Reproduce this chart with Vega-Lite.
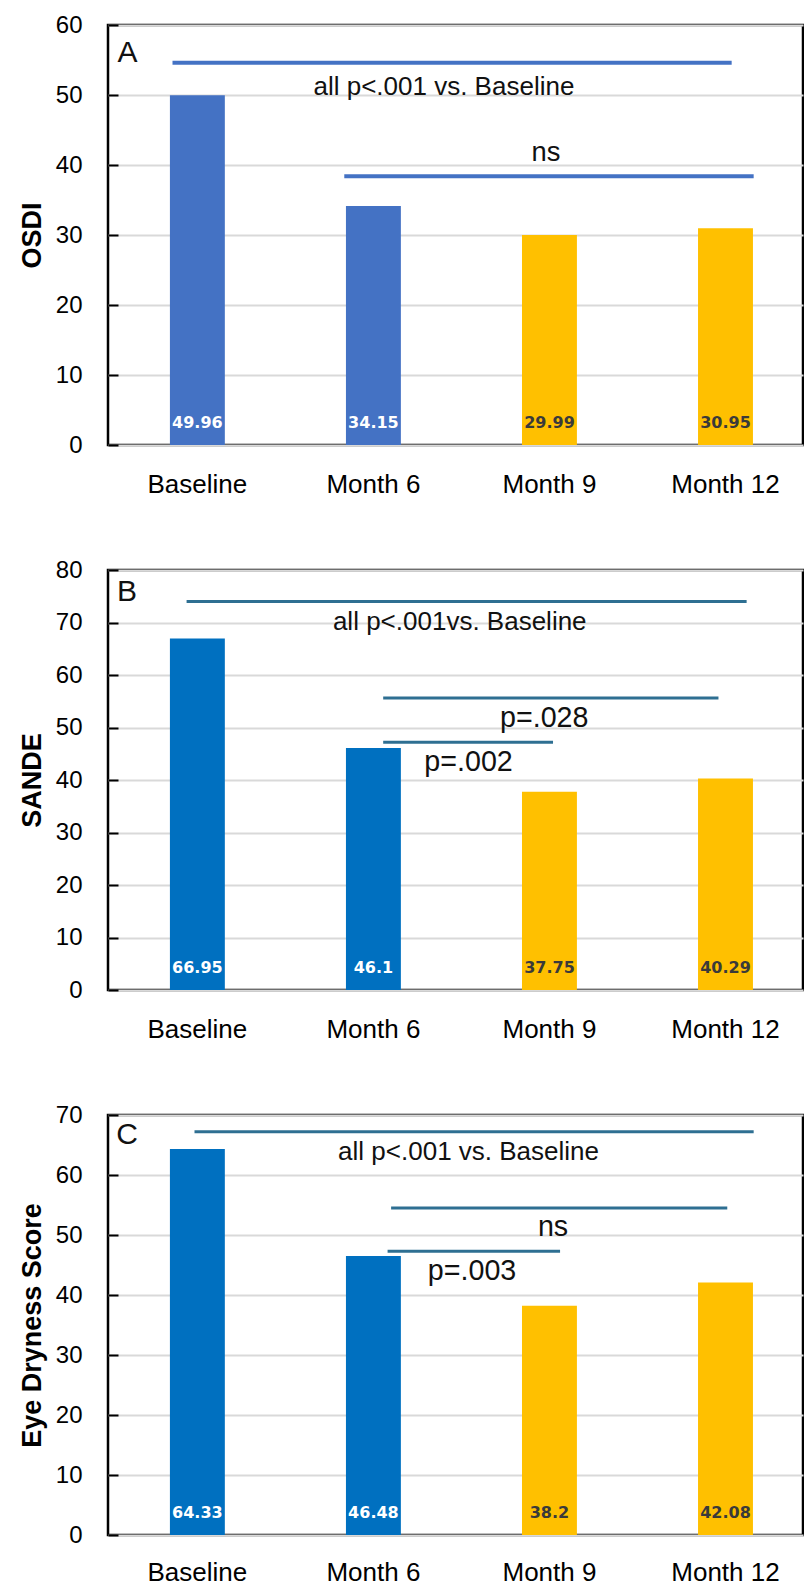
{
  "$schema": "https://vega.github.io/schema/vega-lite/v6.json",
  "padding": {"left": 17, "top": 11, "right": 0, "bottom": 0},
  "spacing": 57,
  "resolve": {"scale": {"color": "independent"}},
  "config": {
    "font": "Liberation Sans",
    "view": {"stroke": "#000", "strokeWidth": 2.5},
    "axis": {"labelFont": "Liberation Sans", "titleFont": "Liberation Sans", "labelColor": "#000", "titleColor": "#000"},
    "axisY": {"grid": true, "gridColor": "#D9D9D9", "gridWidth": 2, "domain": false, "tickSize": -10, "tickColor": "#000", "tickWidth": 2, "labelFontSize": 24, "labelPadding": 36, "titleFontSize": 27, "titleFontWeight": "bold", "titlePadding": 9},
    "axisX": {"ticks": false, "domain": false, "labelFontSize": 26, "labelPadding": 26, "labelAngle": 0, "grid": false}
  },
  "datasets": {
    "A_bars": [
      {"t": "Baseline", "v": 49.96, "period": "early"},
      {"t": "Month 6", "v": 34.15, "period": "early"},
      {"t": "Month 9", "v": 29.99, "period": "late"},
      {"t": "Month 12", "v": 30.95, "period": "late"}
    ],
    "B_bars": [
      {"t": "Baseline", "v": 66.95, "period": "early"},
      {"t": "Month 6", "v": 46.1, "period": "early"},
      {"t": "Month 9", "v": 37.75, "period": "late"},
      {"t": "Month 12", "v": 40.29, "period": "late"}
    ],
    "C_bars": [
      {"t": "Baseline", "v": 64.33, "period": "early"},
      {"t": "Month 6", "v": 46.48, "period": "early"},
      {"t": "Month 9", "v": 38.2, "period": "late"},
      {"t": "Month 12", "v": 42.08, "period": "late"}
    ],
    "A_rules": [
      {"x1": -0.142, "x2": 3.035, "y": 54.6},
      {"x1": 0.834, "x2": 3.16, "y": 38.4}
    ],
    "A_text": [
      {"x": 1.40, "y": 51.2, "label": "all p<.001 vs. Baseline", "kind": "main"},
      {"x": 1.98, "y": 41.7, "label": "ns", "kind": "big"},
      {"x": -0.397, "y": 56.0, "label": "A", "kind": "letter"}
    ],
    "B_rules": [
      {"x1": -0.062, "x2": 3.12, "y": 74.0},
      {"x1": 1.055, "x2": 2.96, "y": 55.6},
      {"x1": 1.055, "x2": 2.02, "y": 47.2}
    ],
    "B_text": [
      {"x": 1.49, "y": 70.1, "label": "all p<.001vs. Baseline", "kind": "main"},
      {"x": 1.97, "y": 51.9, "label": "p=.028", "kind": "p"},
      {"x": 1.54, "y": 43.4, "label": "p=.002", "kind": "p"},
      {"x": -0.40, "y": 75.9, "label": "B", "kind": "letter"}
    ],
    "C_rules": [
      {"x1": -0.017, "x2": 3.16, "y": 67.2},
      {"x1": 1.10, "x2": 3.01, "y": 54.5},
      {"x1": 1.08, "x2": 2.06, "y": 47.3}
    ],
    "C_text": [
      {"x": 1.54, "y": 63.8, "label": "all p<.001 vs. Baseline", "kind": "main"},
      {"x": 2.02, "y": 51.4, "label": "ns", "kind": "p"},
      {"x": 1.56, "y": 44.0, "label": "p=.003", "kind": "p"},
      {"x": -0.40, "y": 66.7, "label": "C", "kind": "letter"}
    ]
  },
  "vconcat": [
    {
      "width": 695, "height": 420,
      "layer": [
        {
          "data": {"name": "A_bars"},
          "encoding": {
            "x": {"field": "t", "type": "nominal", "sort": null, "title": null, "scale": {"paddingInner": 0.688, "paddingOuter": 0.318, "align": 0.553}},
            "y": {"field": "v", "type": "quantitative", "title": "OSDI", "scale": {"domain": [0, 60], "nice": false}, "axis": {"values": [0, 10, 20, 30, 40, 50, 60]}}
          },
          "layer": [
            {"mark": {"type": "bar"}, "encoding": {"color": {"field": "period", "type": "nominal", "scale": {"domain": ["early", "late"], "range": ["#4472C4", "#FFC000"]}, "legend": null}}},
            {"mark": {"type": "text", "font": "DejaVu Sans", "fontWeight": "bold", "fontSize": 16, "dy": -22, "baseline": "middle"},
             "encoding": {"y": {"datum": 0}, "text": {"field": "v", "type": "nominal"}, "color": {"condition": {"test": "datum.period === 'early'", "value": "#ffffff"}, "value": "#3a3a3a"}}}
          ]
        },
        {
          "layer": [
            {"data": {"name": "A_rules"}, "mark": {"type": "rule", "color": "#4472C4", "strokeWidth": 4},
             "encoding": {
               "x": {"field": "x1", "type": "quantitative", "scale": {"domain": [-0.5085, 3.4403], "nice": false, "zero": false}, "axis": null},
               "x2": {"field": "x2"},
               "y": {"field": "y", "type": "quantitative", "title": "OSDI", "scale": {"domain": [0, 60], "nice": false}, "axis": {"values": [0, 10, 20, 30, 40, 50, 60]}}}},
            {"data": {"name": "A_text"}, "mark": {"type": "text", "color": "#111", "baseline": "middle", "align": "center"},
             "encoding": {
               "x": {"field": "x", "type": "quantitative", "scale": {"domain": [-0.5085, 3.4403], "nice": false, "zero": false}, "axis": null},
               "y": {"field": "y", "type": "quantitative", "title": "OSDI", "scale": {"domain": [0, 60], "nice": false}, "axis": {"values": [0, 10, 20, 30, 40, 50, 60]}},
               "text": {"field": "label"},
               "size": {"field": "kind", "type": "nominal", "scale": {"domain": ["main", "big", "p", "letter"], "range": [26, 30, 25, 28]}, "legend": null},
               "fontWeight": {"condition": {"test": "datum.kind === 'letter'", "value": "bold"}, "value": "normal"}}}
          ]
        }
      ],
      "resolve": {"scale": {"x": "independent"}}
    },
    {
      "width": 695, "height": 420,
      "layer": [
        {
          "data": {"name": "B_bars"},
          "encoding": {
            "x": {"field": "t", "type": "nominal", "sort": null, "title": null, "scale": {"paddingInner": 0.688, "paddingOuter": 0.318, "align": 0.553}},
            "y": {"field": "v", "type": "quantitative", "title": "SANDE", "scale": {"domain": [0, 80], "nice": false}, "axis": {"values": [0, 10, 20, 30, 40, 50, 60, 70, 80]}}
          },
          "layer": [
            {"mark": {"type": "bar"}, "encoding": {"color": {"field": "period", "type": "nominal", "scale": {"domain": ["early", "late"], "range": ["#0070C0", "#FFC000"]}, "legend": null}}},
            {"mark": {"type": "text", "font": "DejaVu Sans", "fontWeight": "bold", "fontSize": 16, "dy": -22, "baseline": "middle"},
             "encoding": {"y": {"datum": 0}, "text": {"field": "v", "type": "nominal"}, "color": {"condition": {"test": "datum.period === 'early'", "value": "#ffffff"}, "value": "#3a3a3a"}}}
          ]
        },
        {
          "layer": [
            {"data": {"name": "B_rules"}, "mark": {"type": "rule", "color": "#2E6F92", "strokeWidth": 3},
             "encoding": {
               "x": {"field": "x1", "type": "quantitative", "scale": {"domain": [-0.5085, 3.4403], "nice": false, "zero": false}, "axis": null},
               "x2": {"field": "x2"},
               "y": {"field": "y", "type": "quantitative", "title": "SANDE", "scale": {"domain": [0, 80], "nice": false}, "axis": {"values": [0, 10, 20, 30, 40, 50, 60, 70, 80]}}}},
            {"data": {"name": "B_text"}, "mark": {"type": "text", "color": "#111", "baseline": "middle", "align": "center"},
             "encoding": {
               "x": {"field": "x", "type": "quantitative", "scale": {"domain": [-0.5085, 3.4403], "nice": false, "zero": false}, "axis": null},
               "y": {"field": "y", "type": "quantitative", "title": "SANDE", "scale": {"domain": [0, 80], "nice": false}, "axis": {"values": [0, 10, 20, 30, 40, 50, 60, 70, 80]}},
               "text": {"field": "label"},
               "size": {"field": "kind", "type": "nominal", "scale": {"domain": ["main", "big", "p", "letter"], "range": [26, 30, 25, 28]}, "legend": null},
               "fontWeight": {"condition": {"test": "datum.kind === 'letter'", "value": "bold"}, "value": "normal"}}}
          ]
        }
      ],
      "resolve": {"scale": {"x": "independent"}}
    },
    {
      "width": 695, "height": 420,
      "layer": [
        {
          "data": {"name": "C_bars"},
          "encoding": {
            "x": {"field": "t", "type": "nominal", "sort": null, "title": null, "scale": {"paddingInner": 0.688, "paddingOuter": 0.318, "align": 0.553}, "axis": {"labelPadding": 24}},
            "y": {"field": "v", "type": "quantitative", "title": "Eye Dryness Score", "scale": {"domain": [0, 70], "nice": false}, "axis": {"values": [0, 10, 20, 30, 40, 50, 60, 70]}}
          },
          "layer": [
            {"mark": {"type": "bar"}, "encoding": {"color": {"field": "period", "type": "nominal", "scale": {"domain": ["early", "late"], "range": ["#0070C0", "#FFC000"]}, "legend": null}}},
            {"mark": {"type": "text", "font": "DejaVu Sans", "fontWeight": "bold", "fontSize": 16, "dy": -22, "baseline": "middle"},
             "encoding": {"y": {"datum": 0}, "text": {"field": "v", "type": "nominal"}, "color": {"condition": {"test": "datum.period === 'early'", "value": "#ffffff"}, "value": "#3a3a3a"}}}
          ]
        },
        {
          "layer": [
            {"data": {"name": "C_rules"}, "mark": {"type": "rule", "color": "#2E6F92", "strokeWidth": 3},
             "encoding": {
               "x": {"field": "x1", "type": "quantitative", "scale": {"domain": [-0.5085, 3.4403], "nice": false, "zero": false}, "axis": null},
               "x2": {"field": "x2"},
               "y": {"field": "y", "type": "quantitative", "title": "Eye Dryness Score", "scale": {"domain": [0, 70], "nice": false}, "axis": {"values": [0, 10, 20, 30, 40, 50, 60, 70]}}}},
            {"data": {"name": "C_text"}, "mark": {"type": "text", "color": "#111", "baseline": "middle", "align": "center"},
             "encoding": {
               "x": {"field": "x", "type": "quantitative", "scale": {"domain": [-0.5085, 3.4403], "nice": false, "zero": false}, "axis": null},
               "y": {"field": "y", "type": "quantitative", "title": "Eye Dryness Score", "scale": {"domain": [0, 70], "nice": false}, "axis": {"values": [0, 10, 20, 30, 40, 50, 60, 70]}},
               "text": {"field": "label"},
               "size": {"field": "kind", "type": "nominal", "scale": {"domain": ["main", "big", "p", "letter"], "range": [26, 30, 25, 28]}, "legend": null},
               "fontWeight": {"condition": {"test": "datum.kind === 'letter'", "value": "bold"}, "value": "normal"}}}
          ]
        }
      ],
      "resolve": {"scale": {"x": "independent"}}
    }
  ]
}
